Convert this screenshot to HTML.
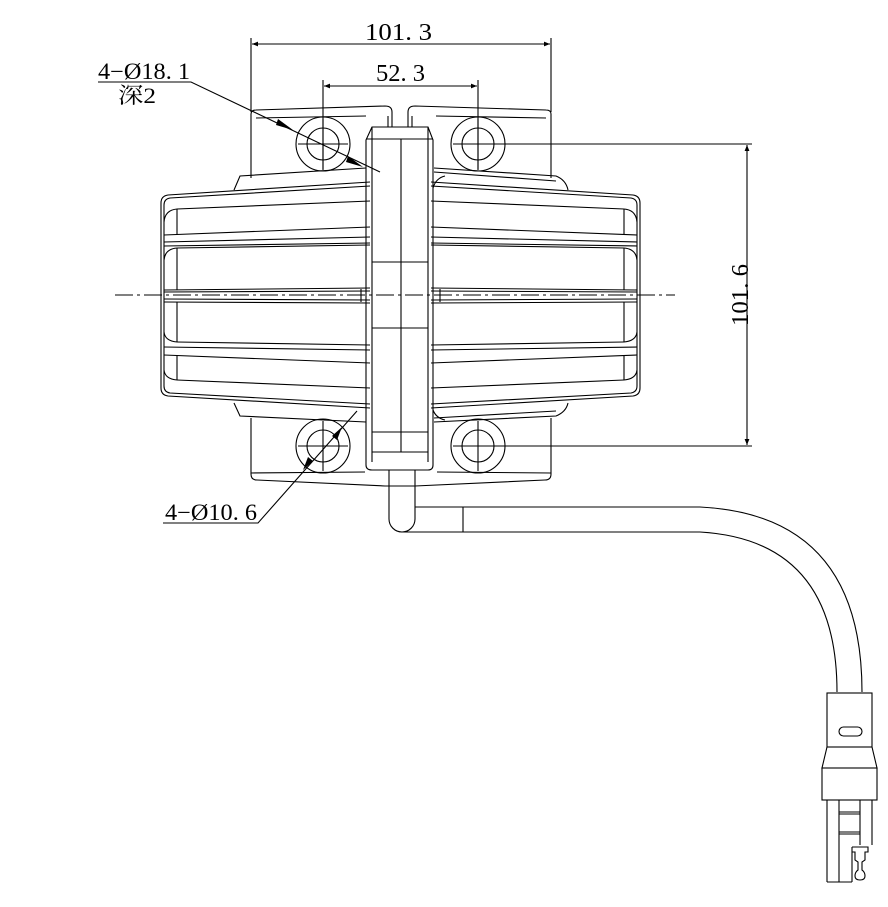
<!DOCTYPE html>
<html><head><meta charset="utf-8"><style>
html,body{margin:0;padding:0;background:#fff}
svg{display:block}
text{font-family:"Liberation Serif","Noto Serif CJK SC",serif;fill:#000}
</style></head><body>
<svg width="888" height="907" viewBox="0 0 888 907" xmlns="http://www.w3.org/2000/svg">
<defs>
<marker id="a" viewBox="0 0 10 10" refX="10" refY="5" markerWidth="14" markerHeight="6" orient="auto-start-reverse" markerUnits="userSpaceOnUse"><path d="M0,1 L10,5 L0,9 Z" fill="#000"/></marker>
</defs>
<g fill="none" stroke="#000" stroke-width="1.1">
<line x1="251" y1="38" x2="251" y2="112"/><line x1="551" y1="38" x2="551" y2="112"/>
<line x1="252" y1="44" x2="550" y2="44" marker-start="url(#a)" marker-end="url(#a)"/>
<line x1="323" y1="80" x2="323" y2="170"/><line x1="478" y1="80" x2="478" y2="170"/>
<line x1="324" y1="86" x2="477" y2="86" marker-start="url(#a)" marker-end="url(#a)"/>
<line x1="500" y1="144" x2="752" y2="144"/><line x1="500" y1="446" x2="752" y2="446"/>
<line x1="747" y1="145" x2="747" y2="445" marker-start="url(#a)" marker-end="url(#a)"/>

<path d="M251,178 L251,114 Q251,110 256,110 L385,106 Q392,106 392,112 L392,127"/>
<path d="M551,178 L551,114 Q551,110 546,110 L415,106 Q408,106 408,112 L408,127"/>
<line x1="388" y1="116" x2="388" y2="127"/><line x1="412" y1="116" x2="412" y2="127"/>
<line x1="256" y1="118" x2="366" y2="116"/><line x1="436" y1="116" x2="546" y2="118"/>
<path d="M251,418 L251,474 Q251,480 257,480 L385,486 L415,486 L545,480 Q551,480 551,474 L551,418"/>
<line x1="251" y1="473" x2="365" y2="472"/><line x1="437" y1="472" x2="551" y2="473"/>
<path d="M234,190 L240,176 L366,168"/><path d="M434,168 L556,176 Q566,180 568,190"/>
<path d="M434,172 L556,181"/>
<path d="M234,403 L240,416 L366,422"/><path d="M434,422 L556,416 Q566,412 568,403"/>
<path d="M434,418 L556,411"/>

<g>
<circle cx="323" cy="144" r="27"/><circle cx="323" cy="144" r="16"/>
<circle cx="478" cy="144" r="27"/><circle cx="478" cy="144" r="16"/>
<circle cx="323" cy="446" r="27"/><circle cx="323" cy="446" r="16"/>
<circle cx="478" cy="446" r="27"/><circle cx="478" cy="446" r="16"/>
<line x1="298" y1="144" x2="348" y2="144"/><line x1="323" y1="119" x2="323" y2="169"/>
<line x1="453" y1="144" x2="503" y2="144"/><line x1="478" y1="119" x2="478" y2="169"/>
<line x1="298" y1="446" x2="348" y2="446"/><line x1="323" y1="421" x2="323" y2="471"/>
<line x1="453" y1="446" x2="503" y2="446"/><line x1="478" y1="421" x2="478" y2="471"/>
</g>

<g id="L">
<path d="M370,182 L168,195 Q161,196 161,203 L161,388 Q161,395 168,396 L370,408"/>
<path d="M370,186 L170,198 Q164,199 164,205 L164,386 Q164,392 170,393 L370,404"/>
<line x1="177" y1="209" x2="370" y2="201"/>
<path d="M177,209 Q165,210 164,222"/>
<line x1="177" y1="209" x2="177" y2="235"/>
<line x1="164" y1="235" x2="370" y2="227"/>
<line x1="164" y1="242" x2="370" y2="237"/>
<line x1="164" y1="246" x2="370" y2="243"/>
<line x1="177" y1="248" x2="370" y2="245"/>
<path d="M177,248 Q165,249 164,260"/>
<line x1="177" y1="248" x2="177" y2="290"/>
<line x1="164" y1="290" x2="370" y2="288"/>
<line x1="164" y1="292" x2="370" y2="291"/>
<line x1="164" y1="299" x2="370" y2="300"/>
<line x1="164" y1="302" x2="370" y2="303"/>
<line x1="361" y1="289" x2="361" y2="302"/>
<line x1="177" y1="302" x2="177" y2="342"/>
<line x1="177" y1="342" x2="370" y2="345"/>
<path d="M177,342 Q165,341 164,332"/>
<line x1="164" y1="347" x2="370" y2="350"/>
<line x1="164" y1="355" x2="370" y2="363"/>
<line x1="177" y1="380" x2="370" y2="388"/>
<path d="M177,380 Q165,379 164,370"/>
<line x1="177" y1="355" x2="177" y2="380"/>
</g>
<use href="#L" transform="translate(801,0) scale(-1,1)"/>

<path d="M366,465 L366,140 L372,127 L428,127 L433,140 L433,465 Q433,470 428,470 L372,470 Q366,470 366,465 Z"/>
<line x1="372" y1="127" x2="372" y2="462"/><line x1="428" y1="127" x2="428" y2="462"/>
<line x1="366" y1="139" x2="433" y2="139"/>
<line x1="401" y1="139" x2="401" y2="452"/>
<line x1="372" y1="262" x2="428" y2="262"/><line x1="372" y1="328" x2="428" y2="328"/>
<line x1="372" y1="432" x2="428" y2="432"/><line x1="372" y1="452" x2="428" y2="452"/>
<path d="M433,188 Q436,178 445,176"/><path d="M433,410 Q436,418 445,420"/>

<line x1="115" y1="295" x2="675" y2="295" stroke-width="0.9" stroke-dasharray="18,4,3,4"/>

<polyline points="98,82 191,82 380,172"/>
<polyline points="163,523 258,523 357,411"/>

<path d="M389,470 L389,519 A13,13 0 0 0 415,519 L415,470"/>
<path d="M415,507 L700,507 Q862,515 862,692"/>
<path d="M401,532 L700,532 Q837,540 837,692"/>
<line x1="463" y1="507" x2="463" y2="532"/>

<rect x="827" y="693" width="45" height="54"/>
<rect x="839" y="727" width="23" height="9" rx="4.5"/>
<path d="M827,747 L822,768 L877,768 L872,747"/>
<rect x="822" y="768" width="55" height="32"/>
<line x1="827" y1="800" x2="827" y2="882"/><line x1="839" y1="800" x2="839" y2="882"/>
<line x1="827" y1="882" x2="852" y2="882"/>
<line x1="860" y1="800" x2="860" y2="845"/><line x1="872" y1="800" x2="872" y2="845"/>
<line x1="839" y1="812" x2="860" y2="812"/><line x1="839" y1="814" x2="860" y2="814"/>
<line x1="839" y1="832" x2="860" y2="832"/><line x1="839" y1="834" x2="860" y2="834"/>
<line x1="852" y1="847" x2="852" y2="882"/>
<path d="M852,847 L868,847 L868,852 L865,852 L865,860 L862,862 L862,870 Q865,872 865,876 Q865,880 860,880 Q855,880 855,876 Q855,872 858,870 L858,862 L855,860 L855,852 L852,852"/>
</g>

<g fill="#000" stroke="none">
<polygon points="293,130 278,119 276,125"/>
<polygon points="363,167 348,156 346,162"/>
<polygon points="303,470 308,457 313,461"/>
<polygon points="342,427 337,440 332,436"/>
</g>

<g stroke="none">
<text x="365" y="40" font-size="24" textLength="67" lengthAdjust="spacingAndGlyphs">101. 3</text>
<text x="376" y="81" font-size="24" textLength="49" lengthAdjust="spacingAndGlyphs">52. 3</text>
<text x="98" y="79" font-size="23" textLength="92" lengthAdjust="spacingAndGlyphs">4−Ø18. 1</text>
<text x="118" y="103" font-size="22" textLength="38" lengthAdjust="spacingAndGlyphs">深2</text>
<text x="165" y="520" font-size="23" textLength="92" lengthAdjust="spacingAndGlyphs">4−Ø10. 6</text>
<text x="-30" y="8" font-size="24" textLength="62" lengthAdjust="spacingAndGlyphs" transform="translate(740,296) rotate(-90)">101. 6</text>
</g>
</svg>
</body></html>
